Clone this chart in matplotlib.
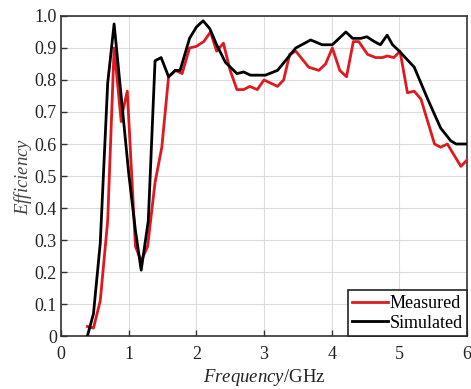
import matplotlib
matplotlib.use("Agg")
import matplotlib.pyplot as plt

# Measured efficiency (red)
meas_f = [0.39, 0.48, 0.58, 0.69, 0.785, 0.89, 0.91, 0.98, 1.10, 1.185, 1.28, 1.39, 1.49,
          1.59, 1.69, 1.79, 1.90, 2.00, 2.11, 2.21, 2.30, 2.40, 2.50, 2.60, 2.70, 2.79,
          2.90, 3.00, 3.20, 3.29, 3.38, 3.47, 3.66, 3.81, 3.91, 4.01, 4.12, 4.22, 4.32,
          4.40, 4.53, 4.65, 4.75, 4.82, 4.92, 5.01, 5.12, 5.22, 5.32, 5.42, 5.52, 5.61,
          5.71, 5.91, 6.00]
meas_e = [0.03, 0.025, 0.11, 0.36, 0.90, 0.67, 0.70, 0.765, 0.28, 0.235, 0.28, 0.48, 0.59,
          0.81, 0.83, 0.82, 0.90, 0.905, 0.92, 0.95, 0.89, 0.915, 0.83, 0.77, 0.77, 0.78,
          0.77, 0.80, 0.78, 0.80, 0.88, 0.89, 0.84, 0.83, 0.85, 0.90, 0.83, 0.81, 0.92,
          0.92, 0.88, 0.87, 0.87, 0.875, 0.87, 0.89, 0.76, 0.765, 0.74, 0.67, 0.60, 0.59,
          0.60, 0.53, 0.55]

# Simulated efficiency (black)
sim_f = [0.39, 0.48, 0.58, 0.69, 0.785, 1.00, 1.10, 1.185, 1.29, 1.39, 1.48, 1.59, 1.69,
         1.76, 1.90, 2.00, 2.10, 2.20, 2.30, 2.43, 2.60, 2.70, 2.80, 3.02, 3.20, 3.47,
         3.69, 3.86, 4.01, 4.21, 4.31, 4.43, 4.52, 4.63, 4.72, 4.82, 4.90, 5.00, 5.22,
         5.42, 5.61, 5.76, 5.84, 6.00]
sim_e = [0.0, 0.07, 0.29, 0.79, 0.975, 0.51, 0.33, 0.206, 0.36, 0.86, 0.87, 0.81, 0.83,
         0.83, 0.93, 0.965, 0.985, 0.96, 0.91, 0.855, 0.82, 0.825, 0.815, 0.815, 0.83, 0.90,
         0.925, 0.91, 0.91, 0.95, 0.93, 0.93, 0.935, 0.92, 0.91, 0.94, 0.91, 0.89, 0.84,
         0.74, 0.65, 0.61, 0.60, 0.60]

x_ticks = [0, 1, 2, 3, 4, 5, 6]
y_ticks = [0, 0.1, 0.2, 0.3, 0.4, 0.5, 0.6, 0.7, 0.8, 0.9, 1.0]
y_labels = ["0", "0.1", "0.2", "0.3", "0.4", "0.5", "0.6", "0.7", "0.8", "0.9", "1.0"]

plt.rcParams["font.family"] = ["Liberation Serif", "DejaVu Serif"]
plt.rcParams["mathtext.fontset"] = "custom"
plt.rcParams["mathtext.rm"] = "Liberation Serif"
plt.rcParams["mathtext.it"] = "Liberation Serif:italic"

fig = plt.figure(figsize=(4.71, 3.89), dpi=100)
ax = fig.add_axes([0.1295, 0.136, 0.862, 0.823])

ax.plot(meas_f, meas_e, color="#e0191f", lw=2.0, label="Measured", zorder=3)
ax.plot(sim_f, sim_e, color="black", lw=2.0, label="Simulated", zorder=4)

ax.set_xlim(0, 6)
ax.set_ylim(0, 1.0)
ax.set_xticks(x_ticks)
ax.set_yticks(y_ticks)
ax.set_yticklabels(y_labels)
ax.grid(True, color="#dcdcdc", lw=0.8)
ax.set_axisbelow(True)
ax.tick_params(direction="in", length=4, width=1, colors="#333333", labelsize=13,
               labelcolor="#222222", pad=3)
ax.tick_params(axis="x", pad=7)
for s in ax.spines.values():
    s.set_color("#333333")
    s.set_linewidth(1.2)

ax.set_xlabel("$\\it{Frequency}$/GHz", fontsize=13.5, labelpad=3, color="#222222")
ax.set_ylabel("$\\it{Efficiency}$", fontsize=13.5, labelpad=0, color="#444444")

leg = ax.legend(loc="lower right", fontsize=13, frameon=True, fancybox=False,
                borderaxespad=0, handlelength=2.0, handletextpad=0.05,
                borderpad=0.25, labelspacing=0.15)
leg.get_frame().set_edgecolor("#222222")
leg.get_frame().set_linewidth(1.2)
leg.get_frame().set_alpha(1)

fig.savefig("out.png", dpi=100)
